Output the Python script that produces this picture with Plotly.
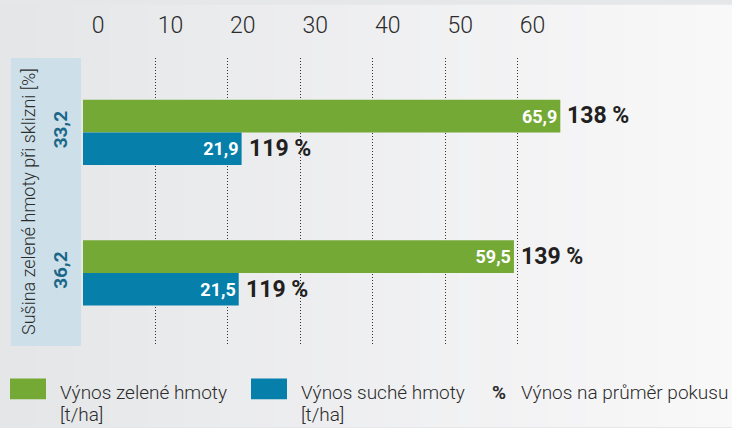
import plotly.graph_objects as go

# ---- data ----
categories = ["33,2", "36,2"]          # Sušina zelené hmoty při sklizni [%]
green_yield = [65.9, 59.5]            # Výnos zelené hmoty [t/ha]
dry_yield = [21.9, 21.5]              # Výnos suché hmoty [t/ha]
green_pct = ["138 %", "139 %"]        # Výnos na průměr pokusu
dry_pct = ["119 %", "119 %"]
x_ticks = [0, 10, 20, 30, 40, 50, 60]

W, H = 732, 428
ML, MR, MT, MB = 83, 142, 54, 82
PW, PH = W - ML - MR, H - MT - MB

def px(x):
    return (x - ML) / PW

def py(y):
    return (H - MB - y) / PH

FONT = "Roboto, Liberation Sans, Arial, sans-serif"
TXT = "#2b2b2b"
GREEN = "#74a936"
BLUE = "#0680ab"

fig = go.Figure()
fig.add_trace(go.Bar(
    y=categories, x=green_yield, orientation="h", name="Výnos zelené hmoty [t/ha]",
    marker=dict(color=GREEN, line=dict(width=0)),
    texttemplate="<b>%{x:.1f}</b>", textposition="inside", insidetextanchor="end",
    textfont=dict(color="white", size=18, family=FONT), cliponaxis=False,
    showlegend=False,
))
fig.add_trace(go.Bar(
    y=categories, x=dry_yield, orientation="h", name="Výnos suché hmoty [t/ha]",
    marker=dict(color=BLUE, line=dict(width=0)),
    texttemplate="<b>%{x:.1f}</b>", textposition="inside", insidetextanchor="end",
    textfont=dict(color="white", size=18, family=FONT), cliponaxis=False,
    showlegend=False,
))

shapes = []
# background gradient
N = 40
c0, c1 = (229, 230, 232), (248, 248, 249)
for i in range(N):
    t = i / (N - 1)
    col = "rgb(%d,%d,%d)" % tuple(round(a + (b - a) * t) for a, b in zip(c0, c1))
    shapes.append(dict(type="rect", xref="paper", yref="paper", layer="below",
                       x0=px(i * W / N), x1=px((i + 1) * W / N + 1), y0=py(H), y1=py(0),
                       fillcolor=col, line=dict(width=0)))
# left label panel
shapes.append(dict(type="rect", xref="paper", yref="paper", layer="below",
                   x0=px(11), x1=px(81), y0=0, y1=1,
                   fillcolor="#cde0ea", line=dict(width=0)))
# legend swatches
shapes.append(dict(type="rect", xref="paper", yref="paper", layer="below",
                   x0=px(10), x1=px(46), y0=py(400), y1=py(379),
                   fillcolor=GREEN, line=dict(width=0)))
shapes.append(dict(type="rect", xref="paper", yref="paper", layer="below",
                   x0=px(251), x1=px(287), y0=py(400), y1=py(379),
                   fillcolor=BLUE, line=dict(width=0)))

annotations = []
for cat, v, t in zip(categories, green_yield, green_pct):
    annotations.append(dict(x=v, y=cat, xref="x", yref="y", text="<b>%s</b>" % t,
                            showarrow=False, xanchor="left", yanchor="middle",
                            xshift=5, yshift=16.5, font=dict(size=23, color="#231f20", family=FONT)))
for cat, v, t in zip(categories, dry_yield, dry_pct):
    annotations.append(dict(x=v, y=cat, xref="x", yref="y", text="<b>%s</b>" % t,
                            showarrow=False, xanchor="left", yanchor="middle",
                            xshift=5, yshift=-16.5, font=dict(size=23, color="#231f20", family=FONT)))
# panel title
annotations.append(dict(x=px(28), y=py(200), xref="paper", yref="paper",
                        text="Sušina zelené hmoty při sklizni [%]", textangle=-90,
                        showarrow=False, xanchor="center", yanchor="middle",
                        font=dict(size=18, color=TXT, family=FONT, weight=300)))
# legend texts
def leg(x, y, text, bold=False):
    annotations.append(dict(x=px(x), y=py(y), xref="paper", yref="paper",
                            text=("<b>%s</b>" % text) if bold else text,
                            showarrow=False, xanchor="left", yanchor="middle",
                            font=dict(size=19, color=TXT, family=FONT, weight=300)))
leg(58, 393, "Výnos zelené hmoty")
leg(58, 415, "[t/ha]")
leg(299, 393, "Výnos suché hmoty")
leg(299, 415, "[t/ha]")
leg(490, 393, "%", bold=True)
leg(519, 393, "Výnos na průměr pokusu")

fig.update_layout(
    width=W, height=H,
    margin=dict(l=ML, r=MR, t=MT, b=MB),
    paper_bgcolor="#e6e7e9", plot_bgcolor="rgba(0,0,0,0)",
    barmode="group", bargap=0.535, bargroupgap=0,
    separators=", ",
    shapes=shapes, annotations=annotations,
    xaxis=dict(side="top", range=[0, 70], tickvals=x_ticks, showgrid=False,
               zeroline=False, showline=False, ticks="",
               ticklabelshift=15, ticklabelstandoff=19,
               tickfont=dict(size=23, color=TXT, family=FONT, weight=300),
               minor=dict(tickvals=x_ticks[1:], showgrid=True, gridcolor="#333333",
                          griddash="1px,2px", gridwidth=1, ticks="")),
    yaxis=dict(type="category", categoryorder="array", categoryarray=categories,
               range=[1.52, -0.53], showgrid=False, zeroline=False, showline=False,
               ticks="", tickangle=-90, ticklabelstandoff=11,
               tickfont=dict(size=19, color="#1b6788", family=FONT, weight="bold")),
    font=dict(family=FONT),
)

fig.write_html("out.html", config={"displayModeBar": False},
               post_script="document.body.style.margin='0px';")
